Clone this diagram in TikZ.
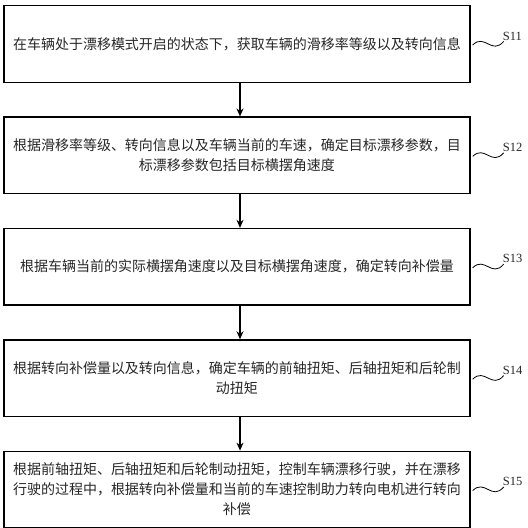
\documentclass[tikz,border=0pt]{standalone}
\usepackage{fontspec}
\setmainfont{Liberation Serif}
\newfontfamily\cjk{Noto Sans CJK SC}
\usetikzlibrary{positioning, arrows.meta}

\begin{document}
\begin{tikzpicture}[x=1pt, y=1pt,
    stepbox/.style={draw, line width=1.4pt, minimum width=466pt, minimum height=76.5pt, align=center, inner sep=0pt,
      font=\cjk\fontsize{14}{20}\selectfont, text=black!85},
    steplabel/.style={font=\fontsize{12.5}{14}\selectfont, inner sep=0pt, text=black!85},
    node distance=33.5pt]
    \useasboundingbox (0,0) rectangle (528,528);

    % Draw the steps
    \node[stepbox] (s1) at (237,484) {在车辆处于漂移模式开启的状态下，获取车辆的滑移率等级以及转向信息};
    \node[stepbox, below=of s1] (s2) {根据滑移率等级、转向信息以及车辆当前的车速，确定目标漂移参数，目\\标漂移参数包括目标横摆角速度};
    \node[stepbox, below=of s2] (s3) {根据车辆当前的实际横摆角速度以及目标横摆角速度，确定转向补偿量};
    \node[stepbox, below=of s3] (s4) {根据转向补偿量以及转向信息，确定车辆的前轴扭矩、后轴扭矩和后轮制\\动扭矩};
    \node[stepbox, below=of s4] (s5) {根据前轴扭矩、后轴扭矩和后轮制动扭矩，控制车辆漂移行驶，并在漂移\\行驶的过程中，根据转向补偿量和当前的车速控制助力转向电机进行转向\\补偿};

    % Draw arrows between the steps
    \foreach \a/\b in {1/2, 2/3, 3/4, 4/5} {
      \draw[-{Stealth[length=8pt, width=7pt]}, line width=1.4pt] ([xshift=3pt]s\a.south) -- ([xshift=3pt]s\b.north);
    }

    % Step labels with wavy leaders
    \foreach \i in {1,...,5} {
      \node[steplabel, right=32pt of s\i.east, yshift=8pt] (t\i) {S1\i};
      \draw[line width=0.8pt] ([shift={(2pt,-1pt)}]s\i.east) .. controls +(12pt,12pt) and +(-12pt,-14pt) .. ([shift={(1pt,-1pt)}]t\i.south west);
    }
\end{tikzpicture}
\end{document}
